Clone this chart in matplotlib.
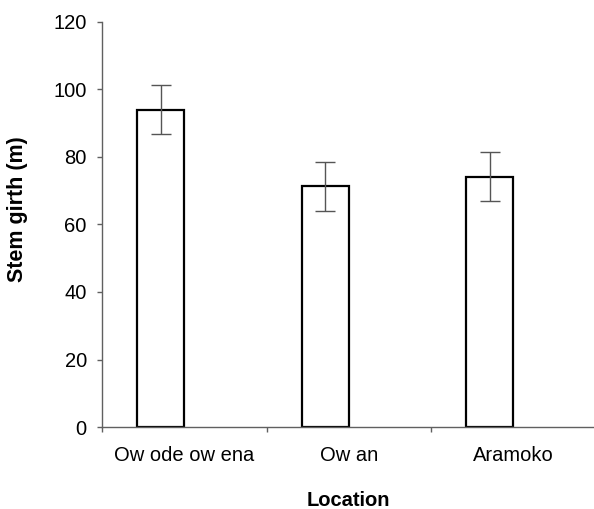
import numpy as np
import matplotlib
matplotlib.use("Agg")
import matplotlib.pyplot as plt
from matplotlib.ticker import FixedLocator

# data
locations = ["Ow ode ow ena", "Ow an", "Aramoko"]
girth = [94.0, 71.3, 74.2]
girth_err = [7.2, 7.3, 7.3]

plt.rcParams['font.family'] = ['Liberation Sans', 'DejaVu Sans']

fig = plt.figure(figsize=(5.94, 5.09), dpi=100)
ax = fig.add_axes([0.172, 0.161, 0.83, 0.796])

x = np.arange(len(locations))
w = 1 / 3.5  # excel style: two series, gap width 150 (second series empty)
ax.bar(x - w, girth, width=w, align='edge', color='white',
       edgecolor='black', linewidth=1.6, zorder=2)
ax.errorbar(x - w / 2, girth, yerr=girth_err, fmt='none', ecolor='#555555',
            elinewidth=1.0, capsize=7, capthick=1.0, zorder=3)

ax.set_xlim(-0.5, len(locations) - 0.5)
ax.set_ylim(0, 120)
ax.set_yticks(np.arange(0, 121, 20))

ax.set_xticks(x)
ax.set_xticklabels(locations, fontsize=14.5)
ax.xaxis.set_minor_locator(FixedLocator(np.arange(-0.5, len(locations), 1.0)))
ax.tick_params(axis='x', which='major', length=0, pad=14)
ax.tick_params(axis='x', which='minor', length=3.6, color='#606060', width=1)
ax.tick_params(axis='y', length=3.6, color='#606060', width=1, labelsize=14.5, pad=7.5)

for side in ['top', 'right']:
    ax.spines[side].set_visible(False)
for side in ['left', 'bottom']:
    ax.spines[side].set_color('#606060')
    ax.spines[side].set_linewidth(1.0)

ax.set_ylabel('Stem girth (m)', fontsize=15.5, fontweight='bold')
ax.yaxis.set_label_coords(-0.15, 0.538)
ax.set_xlabel('Location', fontsize=14.5, fontweight='bold')
ax.xaxis.set_label_coords(0.5, -0.157)

fig.savefig('out.png', dpi=100)
